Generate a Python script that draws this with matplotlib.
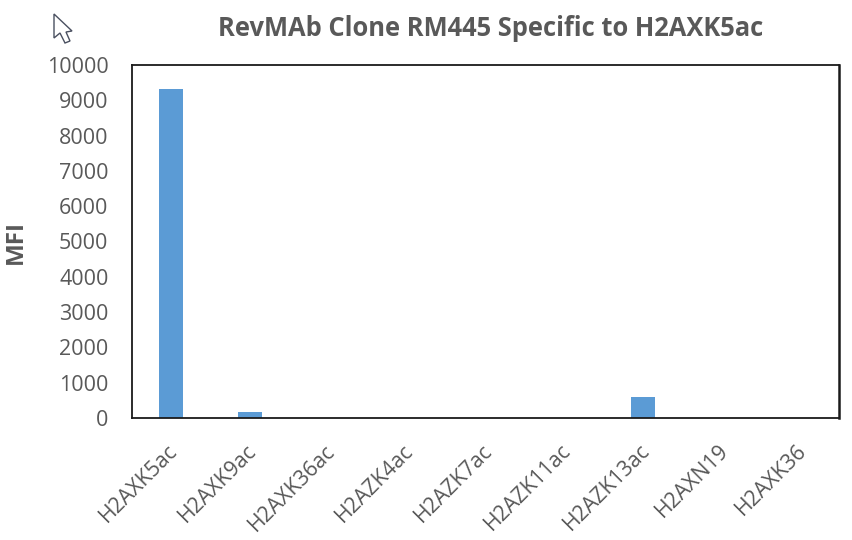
import matplotlib
matplotlib.use("Agg")
import matplotlib.pyplot as plt
from matplotlib.patches import Polygon
from matplotlib.transforms import ScaledTranslation

plt.rcParams['font.family'] = ['Open Sans', 'DejaVu Sans']

# values
peptides = ['H2AXK5ac', 'H2AXK9ac', 'H2AXK36ac', 'H2AZK4ac', 'H2AZK7ac',
            'H2AZK11ac', 'H2AZK13ac', 'H2AXN19', 'H2AXK36']
mfi = [9320, 180, 5, 5, 5, 5, 600, 5, 5]
y_ticks = [0, 1000, 2000, 3000, 4000, 5000, 6000, 7000, 8000, 9000, 10000]

W, H = 853, 540
grey = '#595959'

fig = plt.figure(figsize=(W / 100, H / 100), dpi=100)
ax = fig.add_axes([132 / W, 1 - 418 / H, (839.5 - 132) / W, (418 - 65) / H])

ax.bar(range(len(peptides)), mfi, width=0.31, color='#5B9BD5')
ax.set_xlim(-0.5, len(peptides) - 0.5)
ax.set_ylim(0, 10000)

ax.set_yticks(y_ticks)
ax.tick_params(axis='y', length=0, labelsize=15.5, labelcolor=grey, pad=17)
ax.set_xticks(range(len(peptides)))
ax.set_xticklabels(peptides, rotation=45, ha='right', rotation_mode='anchor',
                   fontsize=15.3, color=grey)
ax.tick_params(axis='x', length=0, pad=16)
shift = ScaledTranslation(-4 / 100, 0, fig.dpi_scale_trans)
for label in ax.get_xticklabels():
    label.set_transform(label.get_transform() + shift)

for side in ax.spines:
    ax.spines[side].set_linewidth(1.3)
    ax.spines[side].set_color('#1a1a1a')
ax.spines['right'].set_linewidth(1.8)

fig.text(491 / W, 1 - 29 / H, 'RevMAb Clone RM445 Specific to H2AXK5ac',
         ha='center', va='center', fontsize=18.4, fontweight='bold', color=grey)
fig.text(15.5 / W, 1 - 242 / H, 'MFI', ha='center', va='center', rotation=90,
         fontsize=17.5, fontweight='bold', color=grey)

# mouse cursor left in the screenshot
cursor = [(54, 14), (54, 38), (60, 33), (65, 43), (70, 41), (66, 32), (72, 31)]
fig.add_artist(Polygon([(x / W, 1 - y / H) for x, y in cursor], closed=True,
                       transform=fig.transFigure, facecolor='white',
                       edgecolor='#4a5060', linewidth=1.0))

fig.savefig('out.png', dpi=100)
